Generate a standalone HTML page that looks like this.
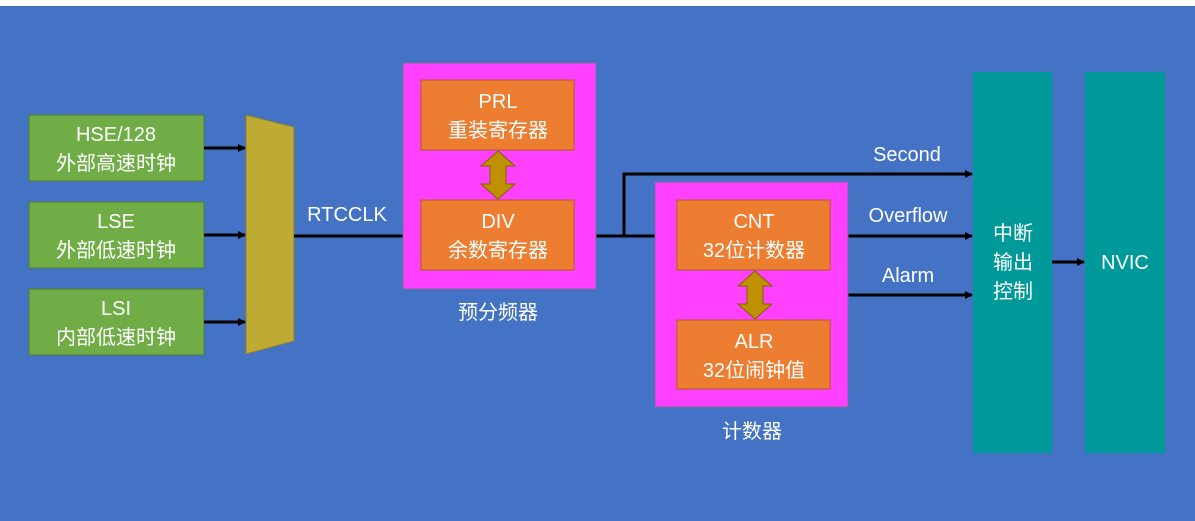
<!DOCTYPE html>
<html><head><meta charset="utf-8"><style>
body{margin:0;width:1195px;height:521px;overflow:hidden;background:#fff;font-family:"Liberation Sans","Noto Sans CJK SC",sans-serif;}
</style></head><body>
<svg width="1195" height="521" xmlns="http://www.w3.org/2000/svg" style="display:block;font-family:'Liberation Sans','Noto Sans CJK SC',sans-serif">
<defs><marker id="a" markerWidth="8" markerHeight="8" refX="7" refY="4" orient="auto" markerUnits="userSpaceOnUse"><path d="M0,0 L8,4 L0,8z" fill="#000"/></marker></defs>
<rect x="0" y="6" width="1195" height="515" fill="#4472C4"/>
<g fill="#70AD47" stroke="#507E32" stroke-width="1">
<rect x="29" y="115" width="175" height="66"/><rect x="29" y="202" width="175" height="66"/><rect x="29" y="289" width="175" height="66"/></g>
<g fill="#fff" font-size="20" text-anchor="middle">
<text x="116" y="141">HSE/128</text><text x="116" y="170">外部高速时钟</text>
<text x="116" y="228">LSE</text><text x="116" y="257">外部低速时钟</text>
<text x="116" y="315">LSI</text><text x="116" y="344">内部低速时钟</text></g>
<polygon points="246,115 294,127 294,341 246,354" fill="#BFAA33" stroke="#8a8030"/>
<g stroke="#000" stroke-width="3" fill="none">
<line x1="204" y1="148" x2="245" y2="148" marker-end="url(#a)"/>
<line x1="204" y1="235" x2="245" y2="235" marker-end="url(#a)"/>
<line x1="204" y1="322" x2="245" y2="322" marker-end="url(#a)"/>
<line x1="294" y1="236" x2="420" y2="236" marker-end="url(#a)"/>
<polyline points="574,236 624,236 624,174 972,174" marker-end="url(#a)"/>
<line x1="620" y1="236" x2="676" y2="236" marker-end="url(#a)"/>
<line x1="830" y1="236" x2="972" y2="236" marker-end="url(#a)"/>
<line x1="763" y1="295" x2="972" y2="295" marker-end="url(#a)"/>
<line x1="1052" y1="262" x2="1084" y2="262" marker-end="url(#a)"/>
</g>
<rect x="403" y="63" width="193" height="226" fill="#FF40FF" stroke="#7a6aa0"/>
<rect x="655" y="182" width="193" height="225" fill="#FF40FF" stroke="#7a6aa0"/>
<g fill="#ED7D31" stroke="#AE5A21">
<rect x="421" y="80" width="153" height="70"/><rect x="421" y="200" width="153" height="70"/>
<rect x="677" y="200" width="153" height="70"/><rect x="677" y="320" width="153" height="69"/></g>
<g fill="#BF9000" stroke="#7F6000">
<polygon points="498,151 515,166 506,166 506,184 515,184 498,199 481,184 490,184 490,166 481,166"/>
<polygon points="755,271 772,286 763,286 763,304 772,304 755,319 738,304 747,304 747,286 738,286"/></g>
<rect x="973" y="72" width="79" height="381" fill="#009999"/>
<rect x="1085" y="72" width="80" height="381" fill="#009999"/>
<g fill="#fff" font-size="20" text-anchor="middle">
<text x="498" y="108">PRL</text><text x="498" y="137">重装寄存器</text>
<text x="498" y="228">DIV</text><text x="498" y="257">余数寄存器</text>
<text x="754" y="228">CNT</text><text x="754" y="257">32位计数器</text>
<text x="754" y="348">ALR</text><text x="754" y="377">32位闹钟值</text>
<text x="498" y="319">预分频器</text><text x="752" y="438">计数器</text>
<text x="347" y="221">RTCCLK</text>
<text x="907" y="161">Second</text><text x="908" y="222">Overflow</text><text x="908" y="282">Alarm</text>
<text x="1013" y="240">中断</text><text x="1013" y="269">输出</text><text x="1013" y="298">控制</text>
<text x="1125" y="269">NVIC</text></g>
</svg>
</body></html>
